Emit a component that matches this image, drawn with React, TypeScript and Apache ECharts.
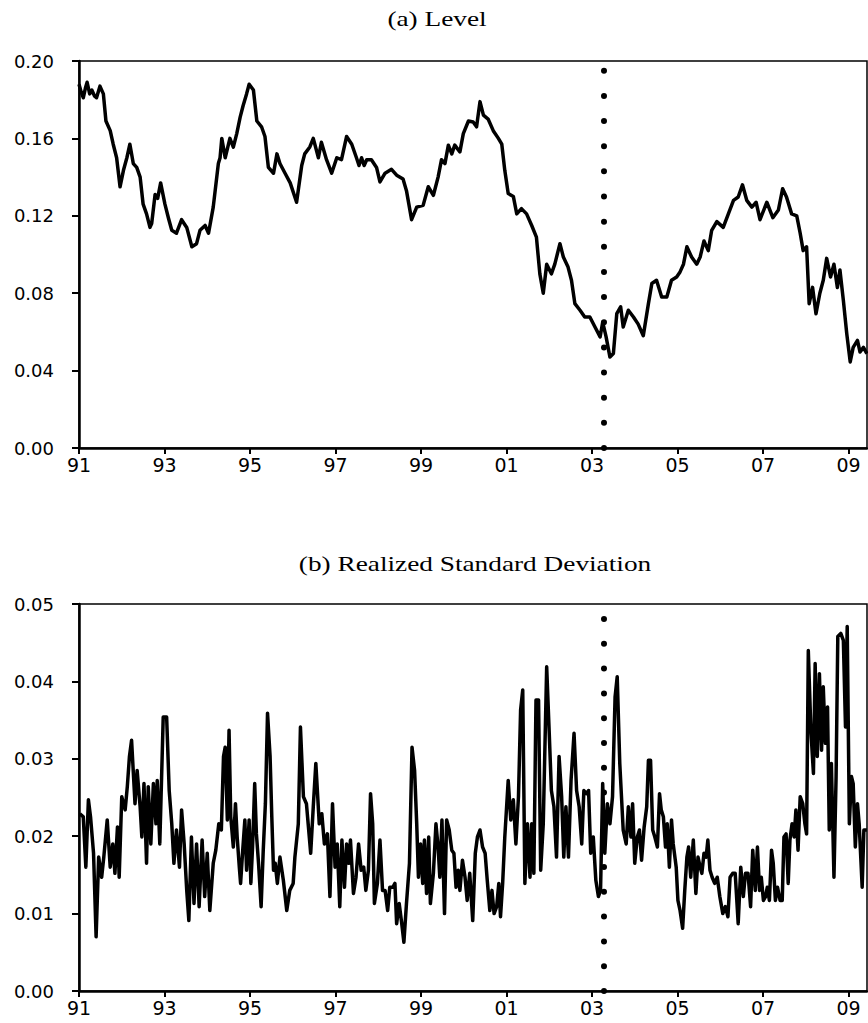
import React, { useEffect, useRef } from "react";
import * as echarts from "echarts";

// ---------- axis / layout data ----------
const START_YEAR = 1991;
const END_YEAR = 2009.433;
const BREAK_YEAR = 2003.265;
const xTickYears = [1991, 1993, 1995, 1997, 1999, 2001, 2003, 2005, 2007, 2009];
const levelAxis = { min: 0, max: 0.2, step: 0.04, dotTop: 0.195 };
const rsdAxis = { min: 0, max: 0.05, step: 0.01, dotTop: 0.0481 };
const titleA = "(a) Level";
const titleB = "(b) Realized Standard Deviation";

// ---------- (a) Level : [year, value] ----------
const level1991_1995: [number, number][] = [
  [1991.0, 0.188], [1991.05, 0.184], [1991.1, 0.181], [1991.15, 0.186], [1991.19, 0.189], [1991.25, 0.183], [1991.3, 0.185],
  [1991.36, 0.182], [1991.41, 0.181], [1991.49, 0.187], [1991.57, 0.183], [1991.63, 0.169], [1991.73, 0.164],
  [1991.8, 0.157], [1991.88, 0.15], [1991.96, 0.135], [1992.04, 0.1435], [1992.12, 0.15], [1992.19, 0.157],
  [1992.27, 0.147], [1992.35, 0.145], [1992.43, 0.14], [1992.5, 0.126], [1992.58, 0.121], [1992.66, 0.114],
  [1992.7, 0.116], [1992.78, 0.131], [1992.84, 0.129], [1992.91, 0.137], [1993.01, 0.126], [1993.09, 0.119],
  [1993.17, 0.1125], [1993.28, 0.111], [1993.4, 0.118], [1993.52, 0.114], [1993.64, 0.104], [1993.75, 0.1056],
  [1993.83, 0.1125], [1993.95, 0.115], [1994.03, 0.111], [1994.14, 0.1245], [1994.26, 0.147], [1994.3, 0.15],
  [1994.34, 0.16], [1994.42, 0.15], [1994.53, 0.16], [1994.61, 0.1555], [1994.69, 0.1625], [1994.77, 0.171],
  [1994.84, 0.177], [1994.92, 0.183], [1994.98, 0.188], [1995.08, 0.185], [1995.16, 0.169], [1995.27, 0.166],
  [1995.35, 0.161], [1995.43, 0.145], [1995.55, 0.142], [1995.63, 0.152], [1995.7, 0.147], [1995.82, 0.142],
  [1995.94, 0.137],
];
const level1996_2000: [number, number][] = [
  [1996.09, 0.127], [1996.21, 0.146], [1996.28, 0.152], [1996.4, 0.1556], [1996.48, 0.16], [1996.6, 0.15],
  [1996.67, 0.158], [1996.79, 0.149], [1996.91, 0.142], [1997.03, 0.15], [1997.14, 0.149], [1997.26, 0.161],
  [1997.38, 0.157], [1997.49, 0.15], [1997.55, 0.146], [1997.61, 0.15], [1997.67, 0.146], [1997.73, 0.149],
  [1997.84, 0.149], [1997.96, 0.145], [1998.04, 0.1375], [1998.16, 0.142], [1998.31, 0.144], [1998.43, 0.141],
  [1998.58, 0.139], [1998.66, 0.133], [1998.78, 0.118], [1998.9, 0.1245], [1999.05, 0.1254], [1999.17, 0.135],
  [1999.29, 0.1306], [1999.4, 0.14], [1999.48, 0.149], [1999.56, 0.147], [1999.64, 0.1565], [1999.72, 0.152],
  [1999.79, 0.1565], [1999.91, 0.153], [1999.99, 0.1625], [2000.11, 0.169], [2000.22, 0.1685], [2000.3, 0.166],
  [2000.38, 0.179], [2000.46, 0.172], [2000.57, 0.17], [2000.69, 0.164], [2000.81, 0.16], [2000.89, 0.157],
  [2000.96, 0.1435],
];
const level2001_2005: [number, number][] = [
  [2001.04, 0.1315], [2001.16, 0.13], [2001.24, 0.121], [2001.35, 0.1237], [2001.47, 0.121], [2001.59, 0.115],
  [2001.7, 0.109], [2001.78, 0.09], [2001.86, 0.08], [2001.94, 0.095], [2002.05, 0.09], [2002.13, 0.095],
  [2002.25, 0.1056], [2002.33, 0.0987], [2002.44, 0.0935], [2002.52, 0.0867], [2002.6, 0.0746], [2002.72, 0.0712],
  [2002.83, 0.0677], [2002.95, 0.0677], [2003.07, 0.0625], [2003.19, 0.0574], [2003.25, 0.065], [2003.33, 0.0574],
  [2003.42, 0.047], [2003.5, 0.0488], [2003.58, 0.0694], [2003.67, 0.073], [2003.73, 0.0625], [2003.85, 0.0712],
  [2003.97, 0.0677], [2004.08, 0.064], [2004.2, 0.058], [2004.32, 0.0746], [2004.4, 0.085], [2004.51, 0.0867],
  [2004.63, 0.078], [2004.75, 0.078], [2004.86, 0.0867], [2004.98, 0.0884], [2005.06, 0.091], [2005.14, 0.095],
  [2005.22, 0.104], [2005.33, 0.0987], [2005.45, 0.095], [2005.53, 0.0987],
];
const level2006_2009: [number, number][] = [
  [2005.62, 0.107], [2005.72, 0.102], [2005.8, 0.1125], [2005.92, 0.117], [2006.07, 0.114], [2006.19, 0.121],
  [2006.31, 0.128], [2006.42, 0.1297], [2006.52, 0.136], [2006.62, 0.128], [2006.74, 0.1245], [2006.84, 0.127],
  [2006.93, 0.118], [2007.09, 0.127], [2007.23, 0.119], [2007.36, 0.123], [2007.46, 0.134], [2007.55, 0.1297],
  [2007.67, 0.121], [2007.79, 0.12], [2007.87, 0.111], [2007.94, 0.102], [2008.02, 0.104], [2008.08, 0.0746],
  [2008.16, 0.083], [2008.24, 0.0694], [2008.33, 0.08], [2008.41, 0.0867], [2008.49, 0.098], [2008.58, 0.0884],
  [2008.66, 0.095], [2008.74, 0.083], [2008.8, 0.092], [2008.88, 0.0763], [2008.96, 0.059], [2009.04, 0.0445],
  [2009.11, 0.052], [2009.21, 0.0556], [2009.27, 0.0496], [2009.35, 0.052], [2009.43, 0.0488],
];

// ---------- (b) Realized standard deviation : [year, value] ----------
const rsd1991_1995: [number, number][] = [
  [1991.02, 0.0229], [1991.1, 0.0225], [1991.16, 0.016], [1991.22, 0.0247], [1991.27, 0.0225], [1991.34, 0.0178],
  [1991.4, 0.007], [1991.46, 0.0173], [1991.53, 0.0147], [1991.58, 0.0173], [1991.66, 0.0221], [1991.73, 0.016],
  [1991.79, 0.019], [1991.84, 0.0152], [1991.9, 0.0212], [1991.94, 0.0147], [1992.0, 0.0251], [1992.08, 0.0234],
  [1992.13, 0.0264], [1992.18, 0.0303], [1992.23, 0.0324], [1992.31, 0.0242], [1992.36, 0.0285], [1992.43, 0.0238],
  [1992.47, 0.0199], [1992.52, 0.0268], [1992.58, 0.0165], [1992.62, 0.0264], [1992.68, 0.019], [1992.74, 0.0268],
  [1992.8, 0.0216], [1992.83, 0.0272], [1992.89, 0.019], [1992.97, 0.0354], [1993.05, 0.0354], [1993.11, 0.0259],
  [1993.17, 0.0216], [1993.22, 0.0165], [1993.28, 0.0208], [1993.35, 0.016], [1993.4, 0.0234], [1993.46, 0.019],
  [1993.52, 0.013], [1993.57, 0.0091], [1993.63, 0.0199], [1993.69, 0.0113], [1993.75, 0.019], [1993.81, 0.0109],
  [1993.88, 0.0195], [1993.94, 0.0122], [1994.0, 0.0178], [1994.06, 0.0104], [1994.14, 0.0165], [1994.2, 0.0182],
  [1994.27, 0.0216], [1994.33, 0.0208], [1994.38, 0.0303], [1994.42, 0.0315], [1994.47, 0.0221], [1994.51, 0.0337],
  [1994.55, 0.0225], [1994.61, 0.0186], [1994.66, 0.0242], [1994.7, 0.0199], [1994.75, 0.016], [1994.78, 0.0139],
  [1994.83, 0.0182], [1994.88, 0.0221], [1994.92, 0.0156], [1994.98, 0.0221], [1995.02, 0.0139], [1995.06, 0.0186],
  [1995.11, 0.0268], [1995.15, 0.0203], [1995.2, 0.0165], [1995.26, 0.0109], [1995.31, 0.0182], [1995.36, 0.0242],
  [1995.41, 0.0359], [1995.47, 0.0303], [1995.51, 0.0225], [1995.55, 0.0156], [1995.59, 0.0165], [1995.64, 0.0139],
  [1995.7, 0.0173], [1995.78, 0.0143], [1995.86, 0.0104], [1995.93, 0.013],
];
const rsd1996_2000: [number, number][] = [
  [1996.01, 0.0139], [1996.05, 0.0173], [1996.13, 0.0216], [1996.18, 0.0341], [1996.25, 0.0251], [1996.32, 0.0242],
  [1996.42, 0.0178], [1996.48, 0.0238], [1996.54, 0.0294], [1996.62, 0.0216], [1996.68, 0.0229], [1996.74, 0.019],
  [1996.81, 0.0203], [1996.87, 0.0122], [1996.93, 0.0242], [1996.99, 0.016], [1997.04, 0.019], [1997.1, 0.0109],
  [1997.15, 0.0195], [1997.21, 0.0134], [1997.26, 0.019], [1997.31, 0.0165], [1997.35, 0.0195], [1997.42, 0.0126],
  [1997.48, 0.0147], [1997.54, 0.019], [1997.6, 0.0156], [1997.66, 0.016], [1997.71, 0.013], [1997.77, 0.0156],
  [1997.82, 0.0255], [1997.87, 0.0216], [1997.91, 0.0113], [1997.98, 0.0139], [1998.04, 0.0195], [1998.1, 0.013],
  [1998.16, 0.013], [1998.22, 0.0104], [1998.27, 0.0134], [1998.34, 0.0134], [1998.39, 0.0139], [1998.43, 0.0087],
  [1998.49, 0.0113], [1998.55, 0.0087], [1998.6, 0.0063], [1998.66, 0.0113], [1998.73, 0.0165], [1998.79, 0.0315],
  [1998.85, 0.0285], [1998.9, 0.0216], [1998.94, 0.0147], [1998.99, 0.019], [1999.04, 0.0139], [1999.08, 0.0195],
  [1999.13, 0.0126], [1999.18, 0.0199], [1999.22, 0.0113], [1999.29, 0.0152], [1999.35, 0.0216], [1999.4, 0.0186],
  [1999.44, 0.0147], [1999.49, 0.0221], [1999.55, 0.01], [1999.6, 0.0221], [1999.66, 0.0208], [1999.72, 0.0182],
  [1999.77, 0.0178], [1999.82, 0.0134], [1999.87, 0.0156], [1999.91, 0.013], [1999.97, 0.0169], [2000.03, 0.0147],
  [2000.08, 0.0117], [2000.14, 0.0152], [2000.21, 0.0091], [2000.27, 0.0178], [2000.32, 0.0199], [2000.38, 0.0208],
  [2000.44, 0.0186], [2000.5, 0.0178], [2000.55, 0.0143], [2000.61, 0.0104], [2000.66, 0.013], [2000.71, 0.01],
  [2000.77, 0.0109], [2000.82, 0.0139], [2000.86, 0.0096], [2000.91, 0.0139], [2000.96, 0.0199],
];
const rsd2001_2005: [number, number][] = [
  [2001.04, 0.0272], [2001.1, 0.0221], [2001.16, 0.0247], [2001.22, 0.019], [2001.28, 0.0251], [2001.33, 0.0363],
  [2001.38, 0.0389], [2001.43, 0.0139], [2001.49, 0.0216], [2001.55, 0.0147], [2001.59, 0.0216], [2001.64, 0.0152],
  [2001.69, 0.0376], [2001.75, 0.0376], [2001.8, 0.0156], [2001.86, 0.0216], [2001.94, 0.0419], [2002.0, 0.0333],
  [2002.05, 0.0259], [2002.11, 0.0238], [2002.17, 0.0173], [2002.23, 0.0303], [2002.29, 0.0251], [2002.34, 0.0173],
  [2002.39, 0.0238], [2002.45, 0.0173], [2002.51, 0.0272], [2002.58, 0.0333], [2002.64, 0.0259], [2002.7, 0.0238],
  [2002.76, 0.019], [2002.81, 0.0259], [2002.87, 0.0255], [2002.92, 0.0259], [2002.97, 0.0178], [2003.03, 0.0199],
  [2003.09, 0.0143], [2003.15, 0.0122], [2003.2, 0.013], [2003.25, 0.0268], [2003.3, 0.0178], [2003.36, 0.0242],
  [2003.42, 0.0216], [2003.48, 0.0251], [2003.54, 0.038], [2003.59, 0.0406], [2003.65, 0.0294], [2003.73, 0.0208],
  [2003.8, 0.019], [2003.85, 0.0238], [2003.91, 0.0199], [2003.95, 0.0242], [2004.0, 0.0165], [2004.06, 0.0199],
  [2004.11, 0.0208], [2004.16, 0.0169], [2004.22, 0.0212], [2004.28, 0.0238], [2004.32, 0.0298], [2004.37, 0.0298],
  [2004.42, 0.0208], [2004.47, 0.0199], [2004.53, 0.0186], [2004.58, 0.0255], [2004.62, 0.0234], [2004.67, 0.0225],
  [2004.72, 0.0186], [2004.76, 0.0216], [2004.81, 0.016], [2004.86, 0.0221], [2004.9, 0.019], [2004.97, 0.016],
  [2005.01, 0.0117], [2005.06, 0.0104], [2005.12, 0.0081], [2005.17, 0.013], [2005.22, 0.0173], [2005.26, 0.0186],
  [2005.31, 0.0147], [2005.37, 0.0195], [2005.43, 0.0126], [2005.48, 0.0173], [2005.53, 0.016], [2005.57, 0.0152],
  [2005.62, 0.0178], [2005.67, 0.0173], [2005.71, 0.0195], [2005.76, 0.0156], [2005.81, 0.0147], [2005.87, 0.0139],
  [2005.93, 0.0147],
];
const rsd2006_2009: [number, number][] = [
  [2005.99, 0.0122], [2006.06, 0.01], [2006.12, 0.0109], [2006.18, 0.0096], [2006.23, 0.0147], [2006.29, 0.0152],
  [2006.35, 0.0152], [2006.42, 0.0087], [2006.48, 0.016], [2006.54, 0.0122], [2006.59, 0.0152], [2006.65, 0.0152],
  [2006.71, 0.0109], [2006.76, 0.0182], [2006.82, 0.013], [2006.87, 0.0186], [2006.92, 0.013], [2006.96, 0.0147],
  [2007.01, 0.0117], [2007.06, 0.0122], [2007.1, 0.0134], [2007.15, 0.0117], [2007.2, 0.0182], [2007.24, 0.0165],
  [2007.29, 0.0117], [2007.34, 0.0134], [2007.4, 0.0117], [2007.45, 0.0117], [2007.49, 0.0199], [2007.54, 0.0203],
  [2007.59, 0.0139], [2007.63, 0.0195], [2007.68, 0.0216], [2007.73, 0.0199], [2007.77, 0.0234], [2007.82, 0.0182],
  [2007.87, 0.0251], [2007.93, 0.0242], [2007.98, 0.0216], [2008.02, 0.0203], [2008.06, 0.044], [2008.12, 0.0337],
  [2008.18, 0.0281], [2008.22, 0.0423], [2008.27, 0.0303], [2008.32, 0.041], [2008.37, 0.0311], [2008.41, 0.0393],
  [2008.46, 0.032], [2008.51, 0.0367], [2008.55, 0.0208], [2008.6, 0.0294], [2008.66, 0.0147], [2008.71, 0.0277],
  [2008.75, 0.0458], [2008.82, 0.0462], [2008.88, 0.0453], [2008.93, 0.0341], [2008.97, 0.0471], [2009.02, 0.0216],
  [2009.07, 0.0277], [2009.11, 0.0268], [2009.16, 0.0186], [2009.21, 0.0242], [2009.25, 0.0216], [2009.32, 0.0134],
  [2009.36, 0.0208], [2009.43, 0.0208],
];

const levelSeries = [...level1991_1995, ...level1996_2000, ...level2001_2005, ...level2006_2009];
const rsdSeries = [...rsd1991_1995, ...rsd1996_2000, ...rsd2001_2005, ...rsd2006_2009];

const toOffset = (pts: [number, number][]) => pts.map(([yr, v]) => [yr - START_YEAR, v]);

const GRID_LEFT = 79;
const GRID_WIDTH = 788;
const GRID_HEIGHT = 387;

function xAxisFor(gridIndex: number) {
  const ticks = xTickYears.map((y) => y - START_YEAR);
  return {
    type: "value" as const,
    gridIndex,
    min: 0,
    max: END_YEAR - START_YEAR,
    interval: 2,
    splitLine: { show: false },
    axisLine: { show: true, onZero: false, lineStyle: { color: "#000", width: 2.5 } },
    axisTick: { show: true, inside: false, length: 6, customValues: ticks, lineStyle: { color: "#000", width: 2 } },
    axisLabel: {
      show: true,
      customValues: ticks,
      margin: 7,
      color: "#000",
      fontFamily: "DejaVu Sans",
      fontSize: 19,
      formatter: (v: number) => String(Math.round(START_YEAR + v) % 100).padStart(2, "0"),
    },
  };
}

function yAxisFor(gridIndex: number, ax: { min: number; max: number; step: number }) {
  return {
    type: "value" as const,
    gridIndex,
    min: ax.min,
    max: ax.max,
    interval: ax.step,
    splitLine: { show: false },
    axisLine: { show: true, onZero: false, lineStyle: { color: "#000", width: 2.5 } },
    axisTick: { show: true, inside: false, length: 7, lineStyle: { color: "#000", width: 2 } },
    axisLabel: {
      show: true,
      margin: 25,
      color: "#000",
      fontFamily: "DejaVu Sans",
      fontSize: 18,
      formatter: (v: number) => v.toFixed(2),
    },
  };
}

function dotLine(top: number, gap: number) {
  return {
    silent: true,
    symbol: ["none", "none"],
    label: { show: false },
    emphasis: { disabled: true },
    lineStyle: { color: "#000", width: 6, type: [0, gap], cap: "round" },
    data: [[{ coord: [BREAK_YEAR - START_YEAR, 0] }, { coord: [BREAK_YEAR - START_YEAR, top] }]],
  };
}

export default function App() {
  const ref = useRef<HTMLDivElement>(null);
  useEffect(() => {
    if (!ref.current) return;
    const chart = echarts.init(ref.current, undefined, { renderer: "svg" });
    const option: any = {
      animation: false,
      backgroundColor: "#fff",
      grid: [
        { left: GRID_LEFT, top: 61, width: GRID_WIDTH, height: GRID_HEIGHT, show: true, borderColor: "#000", borderWidth: 1.5, backgroundColor: "transparent", containLabel: false },
        { left: GRID_LEFT, top: 604, width: GRID_WIDTH, height: GRID_HEIGHT, show: true, borderColor: "#000", borderWidth: 1.5, backgroundColor: "transparent", containLabel: false },
      ],
      xAxis: [xAxisFor(0), xAxisFor(1)],
      yAxis: [yAxisFor(0, levelAxis), yAxisFor(1, rsdAxis)],
      graphic: [
        {
          type: "text",
          x: 437,
          y: 19,
          scaleX: 1.3,
          silent: true,
          style: { text: titleA, font: "21px 'Liberation Serif'", fill: "#000", textAlign: "center", textVerticalAlign: "middle" },
        },
        {
          type: "text",
          x: 475,
          y: 564,
          scaleX: 1.3,
          silent: true,
          style: { text: titleB, font: "21px 'Liberation Serif'", fill: "#000", textAlign: "center", textVerticalAlign: "middle" },
        },
      ],
      series: [
        {
          name: "Level",
          type: "line",
          xAxisIndex: 0,
          yAxisIndex: 0,
          data: toOffset(levelSeries),
          showSymbol: false,
          symbol: "none",
          clip: true,
          lineStyle: { color: "#000", width: 3.5, join: "round" },
          markLine: dotLine(levelAxis.dotTop, 25.15),
        },
        {
          name: "Realized Standard Deviation",
          type: "line",
          xAxisIndex: 1,
          yAxisIndex: 1,
          data: toOffset(rsdSeries),
          showSymbol: false,
          symbol: "none",
          clip: true,
          lineStyle: { color: "#000", width: 3.5, join: "round" },
          markLine: dotLine(rsdAxis.dotTop, 24.8),
        },
      ],
    };
    chart.setOption(option);
    return () => chart.dispose();
  }, []);
  return <div ref={ref} style={{ position: "absolute", left: 0, top: 0, width: 868, height: 1023 }} />;
}
